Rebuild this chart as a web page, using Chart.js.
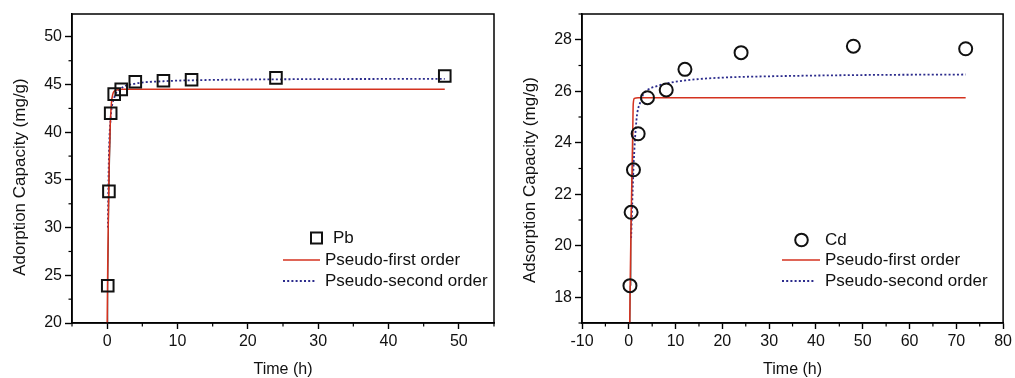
<!DOCTYPE html>
<html><head><meta charset="utf-8">
<script src="https://cdn.jsdelivr.net/npm/chart.js@4.4.1/dist/chart.umd.min.js"></script>
<style>
html,body{margin:0;padding:0;background:#fff;}
#wrap{position:relative;width:1015px;height:378px;overflow:hidden;background:#fff;}
canvas{position:absolute;top:0;}
</style></head><body>
<div id="wrap"><canvas id="c1" width="510" height="378" style="left:0"></canvas><canvas id="c2" width="505" height="378" style="left:510px"></canvas></div>
<script>
// ---------- Pb (left) ----------
const pbTime = [0.083, 0.25, 0.5, 1, 2, 4, 8, 12, 24, 48];
const pbQ    = [23.9, 33.8, 42.0, 44.0, 44.5, 45.3, 45.4, 45.5, 45.7, 45.9];
const pbPFOTime = [0, 0.1, 0.25, 0.4, 0.6, 0.8, 1, 1.5, 2, 48];
const pbPFOQ    = [20, 27.5, 35.5, 40.0, 43.0, 44.0, 44.3, 44.45, 44.5, 44.5];
const pbPSOTime = [0.1, 0.25, 0.5, 1, 2, 4, 8, 12, 24, 48];
const pbPSOQ    = [30.0, 37.5, 41.5, 43.6, 44.6, 45.1, 45.35, 45.45, 45.55, 45.6];
const pbLinkTime = [0, 0.083, 0.25, 0.5];
const pbLinkQ    = [20, 23.9, 33.8, 42.0];
const pbXTicks = [0, 10, 20, 30, 40, 50];
const pbXMinor = [-5, 5, 15, 25, 35, 45, 55];
const pbYTicks = [20, 25, 30, 35, 40, 45, 50];
const pbYMinor = [22.5, 27.5, 32.5, 37.5, 42.5, 47.5, 52.5];
const pbLabels = ['Pb', 'Pseudo-first order', 'Pseudo-second order'];
const pbYTitle = 'Adorption Capacity (mg/g)';

// ---------- Cd (right) ----------
const cdTime = [0.25, 0.5, 1, 2, 4, 8, 12, 24, 48, 72];
const cdQ    = [18.45, 21.3, 22.95, 24.35, 25.75, 26.05, 26.85, 27.5, 27.75, 27.65];
const cdPFOTime = [0.2, 0.3, 0.5, 0.7, 0.85, 0.95, 1.2, 2, 72];
const cdPFOQ    = [17.0, 18.6, 21.0, 23.0, 24.5, 25.5, 25.72, 25.75, 25.75];
const cdPSOTime = [0.5, 1, 1.65, 2.5, 3, 4, 6, 8, 12, 20, 30, 50, 72];
const cdPSOQ    = [20.3, 23.0, 24.9, 25.6, 25.85, 26.05, 26.2, 26.3, 26.42, 26.53, 26.58, 26.63, 26.65];
const cdLinkTime = [0.25, 0.3, 0.45, 0.7, 0.85];
const cdLinkQ    = [17.0, 18.45, 20.5, 22.8, 24.5];
const cdXTicks = [-10, 0, 10, 20, 30, 40, 50, 60, 70, 80];
const cdXMinor = [-5, 5, 15, 25, 35, 45, 55, 65, 75];
const cdYTicks = [18, 20, 22, 24, 26, 28];
const cdYMinor = [17, 19, 21, 23, 25, 27, 29];
const cdLabels = ['Cd', 'Pseudo-first order', 'Pseudo-second order'];
const cdYTitle = 'Adsorption Capacity (mg/g)';

const FONT = '"Liberation Sans", Arial, Helvetica, sans-serif';
const pts = (xs, ys) => xs.map((x, i) => ({x, y: ys[i]}));

const deco = {
  id: 'deco',
  afterDraw(chart, args, o) {
    const {ctx, chartArea: a} = chart;
    const xs = chart.scales.x, ys = chart.scales.y;
    ctx.save();
    ctx.strokeStyle = '#000';
    ctx.lineWidth = 1.5;
    ctx.strokeRect(a.left, a.top, a.right - a.left, a.bottom - a.top);
    ctx.lineWidth = 1.2;
    o.xMinor.forEach(v => {
      const p = xs.getPixelForValue(v);
      ctx.beginPath(); ctx.moveTo(p, a.bottom); ctx.lineTo(p, a.bottom + 3.5); ctx.stroke();
    });
    o.yMinor.forEach(v => {
      const p = ys.getPixelForValue(v);
      if (p < a.top - 0.5) return;
      ctx.beginPath(); ctx.moveTo(a.left, p); ctx.lineTo(a.left - 3.5, p); ctx.stroke();
    });
    // y title
    ctx.fillStyle = '#111';
    ctx.font = '17px ' + FONT;
    ctx.textAlign = 'center';
    ctx.textBaseline = 'middle';
    ctx.save();
    ctx.translate(o.yTitleX, o.yTitleY);
    ctx.rotate(-Math.PI / 2);
    ctx.fillText(o.yTitle, 0, 0);
    ctx.restore();
    // legend
    const L = o.legend;
    const ds = chart.data.datasets;
    ctx.font = '17px ' + FONT;
    ctx.textAlign = 'left';
    ctx.strokeStyle = ds[0].borderColor;
    ctx.lineWidth = ds[0].borderWidth;
    if (ds[0].pointStyle === 'rect') {
      const s = 5.5;
      ctx.strokeRect(L.markerX - s, L.rows[0] - s, 2 * s, 2 * s);
    } else {
      ctx.beginPath(); ctx.arc(L.markerX, L.rows[0], 6.3, 0, Math.PI * 2); ctx.stroke();
    }
    ctx.fillText(ds[0].label, L.markerTextX, L.rows[0]);
    for (let i = 1; i <= 2; i++) {
      ctx.strokeStyle = ds[i].borderColor;
      ctx.lineWidth = ds[i].borderWidth;
      ctx.setLineDash(ds[i].borderDash || []);
      ctx.beginPath(); ctx.moveTo(L.lineX1, L.rows[i]); ctx.lineTo(i === 1 ? L.lineX2 : L.lineX3, L.rows[i]); ctx.stroke();
      ctx.setLineDash([]);
      ctx.fillText(ds[i].label, L.textX, L.rows[i]);
    }
    ctx.restore();
  }
};

function makeChart(id, cfg) {
  return new Chart(document.getElementById(id), {
    type: 'scatter',
    data: {
      datasets: [
        {label: cfg.labels[0], data: pts(cfg.t, cfg.q), pointStyle: cfg.marker, pointRadius: cfg.radius,
         borderColor: '#111', borderWidth: 2, backgroundColor: 'rgba(0,0,0,0)', showLine: false},
        {label: cfg.labels[1], data: pts(cfg.pfoT, cfg.pfoQ), showLine: true, pointRadius: 0,
         borderColor: '#d4321f', borderWidth: 1.5, cubicInterpolationMode: 'monotone', fill: false},
        {label: cfg.labels[2], data: pts(cfg.psoT, cfg.psoQ), showLine: true, pointRadius: 0,
         borderColor: '#2b2b8c', borderWidth: 1.8, borderDash: [2, 2.2], cubicInterpolationMode: 'monotone', fill: false},
        {label: '', data: pts(cfg.linkT, cfg.linkQ), showLine: true, pointRadius: 0,
         borderColor: '#333', borderWidth: 1, fill: false}
      ]
    },
    options: {
      responsive: false,
      animation: false,
      layout: {padding: {top: 14, right: cfg.padRight, bottom: 0, left: 0}},
      plugins: {
        legend: {display: false},
        tooltip: {enabled: false},
        deco: cfg.deco
      },
      scales: {
        x: {
          type: 'linear', min: cfg.xMin, max: cfg.xMax,
          afterFit(s) { s.height = 55; },
          afterBuildTicks(s) { s.ticks = cfg.xTicks.map(v => ({value: v})); },
          grid: {drawOnChartArea: false, drawTicks: true, tickLength: 6, tickColor: '#000', tickWidth: 1.4},
          border: {display: true, color: '#000', width: 1.5},
          ticks: {color: '#111', font: {family: FONT, size: 16}, padding: 3, maxRotation: 0},
          title: {display: true, text: 'Time (h)', color: '#111', font: {family: FONT, size: 16, lineHeight: 1}, padding: {top: 0, bottom: 0}}
        },
        y: {
          type: 'linear', min: cfg.yMin, max: cfg.yMax,
          afterFit(s) { s.width = 72; },
          afterBuildTicks(s) { s.ticks = cfg.yTicks.map(v => ({value: v})); },
          grid: {drawOnChartArea: false, drawTicks: true, tickLength: 7, tickColor: '#000', tickWidth: 1.4},
          border: {display: true, color: '#000', width: 1.5},
          ticks: {color: '#111', font: {family: FONT, size: 16}, padding: 3},
          title: {display: false}
        }
      }
    },
    plugins: [deco]
  });
}

makeChart('c1', {
  labels: pbLabels, marker: 'rect', radius: 8.2,
  t: pbTime, q: pbQ, pfoT: pbPFOTime, pfoQ: pbPFOQ, psoT: pbPSOTime, psoQ: pbPSOQ, linkT: pbLinkTime, linkQ: pbLinkQ,
  xMin: -5, xMax: 55, yMin: 20, yMax: 52.4, xTicks: pbXTicks, yTicks: pbYTicks, padRight: 16,
  deco: {xMinor: pbXMinor, yMinor: pbYMinor, yTitle: pbYTitle, yTitleX: 20, yTitleY: 177,
         legend: {markerX: 316.5, markerTextX: 333, lineX1: 283, lineX2: 320, lineX3: 316, textX: 325, rows: [238, 260, 281]}}
});

makeChart('c2', {
  labels: cdLabels, marker: 'circle', radius: 6.5,
  t: cdTime, q: cdQ, pfoT: cdPFOTime, pfoQ: cdPFOQ, psoT: cdPSOTime, psoQ: cdPSOQ, linkT: cdLinkTime, linkQ: cdLinkQ,
  xMin: -10, xMax: 80, yMin: 17, yMax: 29, xTicks: cdXTicks, yTicks: cdYTicks, padRight: 11,
  deco: {xMinor: cdXMinor, yMinor: cdYMinor, yTitle: cdYTitle, yTitleX: 20, yTitleY: 180,
         legend: {markerX: 291.5, markerTextX: 315, lineX1: 272, lineX2: 310, lineX3: 305, textX: 315, rows: [240, 260, 281]}}
});
</script>
</body></html>
